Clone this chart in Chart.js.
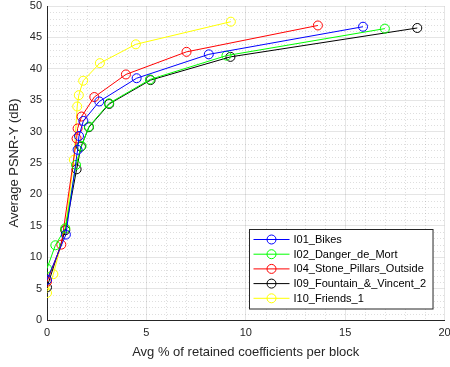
<!DOCTYPE html>
<html lang="en">
<head>
<meta charset="UTF-8">
<title>PSNR vs retained coefficients</title>
<script src="https://cdn.jsdelivr.net/npm/chart.js"></script>
<style>
  html, body { margin: 0; padding: 0; background: #fff; }
  #wrap { width: 450px; height: 367px; }
</style>
</head>
<body>
<div id="wrap"><canvas id="psnrChart" width="450" height="367"></canvas></div>
<script>
// Avg % of retained coefficients per block (x) and average PSNR-Y in dB (y)
var bikesX   = [0.0, 0.95, 1.54, 1.61, 1.83, 2.63, 4.51, 8.14, 15.9];
var bikesY   = [6.4, 13.6, 27.1, 29.3, 31.7, 34.8, 38.5, 42.3, 46.7];

var dangerX  = [0.0, 0.42, 0.92, 1.46, 1.74, 2.11, 3.12, 5.18, 9.03, 17.0];
var dangerY  = [8.2, 11.9, 14.6, 24.7, 27.7, 30.8, 34.5, 38.3, 42.1, 46.4];

var stoneX   = [0.0, 0.72, 1.49, 1.54, 1.74, 2.38, 3.97, 7.02, 13.63];
var stoneY   = [6.1, 12.0, 28.9, 30.5, 32.4, 35.5, 39.1, 42.7, 46.9];

var fountainX = [0.0, 0.92, 1.49, 1.71, 2.11, 3.13, 5.21, 9.23, 18.63];
var fountainY = [5.2, 14.3, 24.0, 27.6, 30.7, 34.4, 38.2, 41.9, 46.5];

var friendsX = [0.0, 0.32, 0.92, 1.35, 1.52, 1.60, 1.82, 2.66, 4.47, 9.25];
var friendsY = [4.3, 7.3, 14.5, 25.5, 34.0, 35.8, 38.1, 40.9, 43.9, 47.5];

var seriesNames  = ['I01_Bikes', 'I02_Danger_de_Mort', 'I04_Stone_Pillars_Outside', 'I09_Fountain_&_Vincent_2', 'I10_Friends_1'];
var seriesColors = ['#0000ff', '#00ff00', '#ff0000', '#000000', '#ffff00'];
var xTicks = [0, 5, 10, 15, 20];
var yTicks = [0, 5, 10, 15, 20, 25, 30, 35, 40, 45, 50];

var textColor = '#262626';
var fontFamily = '"Liberation Sans", Arial, Helvetica, sans-serif';

function toPoints(xs, ys) {
    return xs.map(function (x, i) { return { x: x, y: ys[i] }; });
}

var allX = [bikesX, dangerX, stoneX, fountainX, friendsX];
var allY = [bikesY, dangerY, stoneY, fountainY, friendsY];

var datasets = seriesNames.map(function (name, i) {
    return {
        label: name,
        data: toPoints(allX[i], allY[i]),
        borderColor: seriesColors[i],
        backgroundColor: 'rgba(0,0,0,0)',
        borderWidth: 1,
        pointRadius: 4.5,
        pointHoverRadius: 4.5,
        pointBorderWidth: 1,
        pointBackgroundColor: 'rgba(0,0,0,0)',
        pointBorderColor: seriesColors[i],
        fill: false,
        tension: 0
    };
});

// dotted minor grid every 1 unit, drawn under the data
var minorGrid = {
    id: 'minorGrid',
    beforeDatasetsDraw: function (chart) {
        var ctx = chart.ctx, a = chart.chartArea;
        var xs = chart.scales.x, ys = chart.scales.y;
        ctx.save();
        ctx.strokeStyle = 'rgba(0,0,0,0.13)';
        ctx.lineWidth = 1;
        ctx.setLineDash([1, 2]);
        for (var v = 0; v <= 20; v++) {
            if (v % 5 === 0) continue;
            var px = Math.round(xs.getPixelForValue(v)) + 0.5;
            ctx.beginPath(); ctx.moveTo(px, a.top); ctx.lineTo(px, a.bottom); ctx.stroke();
        }
        for (var w = 0; w <= 50; w++) {
            if (w % 5 === 0) continue;
            var py = Math.round(ys.getPixelForValue(w)) + 0.5;
            ctx.beginPath(); ctx.moveTo(a.left, py); ctx.lineTo(a.right, py); ctx.stroke();
        }
        ctx.restore();
    }
};

// boxed legend in the lower right corner of the axes
var boxLegend = {
    id: 'boxLegend',
    afterDraw: function (chart) {
        var ctx = chart.ctx, a = chart.chartArea;
        var rowH = 14.7;
        ctx.save();
        ctx.font = '11px ' + fontFamily;
        var maxW = 0;
        chart.data.datasets.forEach(function (ds) {
            maxW = Math.max(maxW, ctx.measureText(ds.label).width);
        });
        var w = 44 + maxW + 7;
        var h = rowH * chart.data.datasets.length + 6;
        var right = a.right - 12, bottom = a.bottom - 12;
        var left = Math.round(right - w) + 0.5, top = Math.round(bottom - h) + 0.5;
        ctx.fillStyle = '#ffffff';
        ctx.fillRect(left, top, w, h);
        ctx.strokeStyle = textColor;
        ctx.lineWidth = 1;
        ctx.strokeRect(left, top, w, h);
        ctx.textBaseline = 'middle';
        chart.data.datasets.forEach(function (ds, i) {
            var cy = top + 10 + i * rowH;
            ctx.strokeStyle = ds.borderColor;
            ctx.beginPath();
            ctx.moveTo(left + 4, cy); ctx.lineTo(left + 40, cy);
            ctx.stroke();
            ctx.beginPath();
            ctx.arc(left + 22, cy, 4.5, 0, Math.PI * 2);
            ctx.stroke();
            ctx.fillStyle = '#000000';
            ctx.fillText(ds.label, left + 44, cy + 0.5);
        });
        ctx.restore();
    }
};

var ctx = document.getElementById('psnrChart').getContext('2d');
var psnrChart = new Chart(ctx, {
    type: 'line',
    data: { datasets: datasets },
    options: {
        responsive: false,
        animation: false,
        layout: { padding: { top: 6, right: 5, left: 0, bottom: 0 } },
        plugins: {
            legend: { display: false },
            tooltip: { enabled: false }
        },
        scales: {
            x: {
                type: 'linear',
                min: 0,
                max: 20,
                afterBuildTicks: function (scale) {
                    scale.ticks = xTicks.map(function (v) { return { value: v }; });
                },
                afterFit: function (scale) {
                    scale.height = 47;
                    scale.paddingLeft = 0;
                    scale.paddingRight = 0;
                },
                grid: { color: 'rgba(0,0,0,0.1)', drawTicks: false },
                border: { color: textColor, width: 1 },
                ticks: { color: textColor, padding: 6, maxRotation: 0, font: { size: 11, family: fontFamily } },
                title: {
                    display: true,
                    text: 'Avg % of retained coefficients per block',
                    color: textColor,
                    font: { size: 13, family: fontFamily },
                    padding: { top: 0, bottom: 7 }
                }
            },
            y: {
                min: 0,
                max: 50,
                afterBuildTicks: function (scale) {
                    scale.ticks = yTicks.map(function (v) { return { value: v }; });
                },
                afterFit: function (scale) {
                    scale.width = 47;
                    scale.paddingTop = 0;
                    scale.paddingBottom = 0;
                },
                grid: { color: 'rgba(0,0,0,0.1)', drawTicks: false },
                border: { color: textColor, width: 1 },
                ticks: { color: textColor, padding: 5, font: { size: 11, family: fontFamily } },
                title: {
                    display: true,
                    text: 'Average PSNR-Y (dB)',
                    color: textColor,
                    font: { size: 13, family: fontFamily },
                    padding: { top: 7, bottom: 0 }
                }
            }
        }
    },
    plugins: [minorGrid, boxLegend]
});
</script>
</body>
</html>
